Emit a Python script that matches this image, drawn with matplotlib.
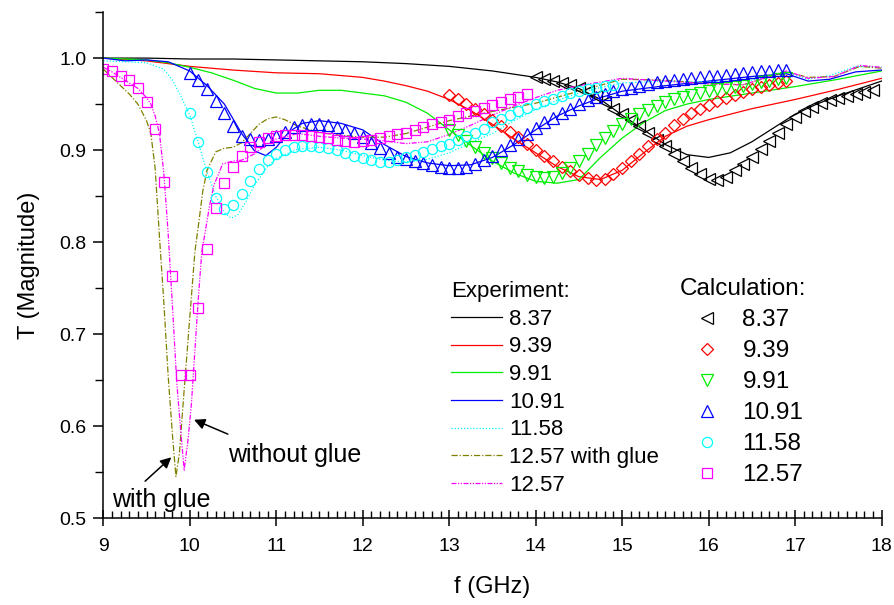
import numpy as np
import matplotlib
matplotlib.use('Agg')
import matplotlib.pyplot as plt
from matplotlib.ticker import MultipleLocator

plt.rcParams['font.family'] = ['Liberation Sans', 'DejaVu Sans']

# ---- experiment (lines) ----
f_837 = [9, 9.5, 10, 10.5, 11, 11.5, 12, 12.5, 13, 13.5, 14, 14.25, 14.5, 14.75, 15, 15.25,
         15.5, 15.75, 16, 16.25, 16.5, 16.75, 17, 17.25, 17.5, 17.75, 18]
t_837 = [1.0, 1.0, 0.999, 0.999, 0.998, 0.997, 0.996, 0.994, 0.991, 0.986, 0.979, 0.974,
         0.967, 0.955, 0.938, 0.922, 0.906, 0.895, 0.892, 0.897, 0.909, 0.924, 0.939, 0.950,
         0.959, 0.967, 0.975]

f_939 = [9, 9.5, 10, 10.5, 11, 11.5, 12, 12.25, 12.5, 12.75, 13, 13.25, 13.5, 13.75, 14,
         14.25, 14.5, 14.75, 15, 15.25, 15.5, 15.75, 16, 16.5, 17, 17.5, 18]
t_939 = [1.0, 0.997, 0.991, 0.987, 0.984, 0.983, 0.979, 0.975, 0.970, 0.964, 0.955, 0.943,
         0.928, 0.912, 0.897, 0.882, 0.871, 0.868, 0.878, 0.897, 0.915, 0.926, 0.933, 0.945,
         0.955, 0.966, 0.978]

f_991 = [9, 9.5, 9.75, 10, 10.25, 10.5, 10.75, 11, 11.25, 11.5, 11.75, 12, 12.25, 12.5, 12.75,
         13, 13.25, 13.5, 13.75, 14, 14.25, 14.5, 14.75, 15, 15.25, 15.5, 15.75, 16, 16.5, 17,
         17.5, 18]
t_991 = [1.0, 0.998, 0.995, 0.990, 0.984, 0.976, 0.967, 0.962, 0.962, 0.965, 0.965, 0.962,
         0.959, 0.952, 0.940, 0.922, 0.905, 0.888, 0.875, 0.866, 0.864, 0.868, 0.892, 0.913,
         0.930, 0.943, 0.950, 0.955, 0.962, 0.969, 0.977, 0.986]

f_1091 = [9, 9.25, 9.5, 9.75, 10, 10.2, 10.4, 10.6, 10.75, 10.88, 11.0, 11.15, 11.3, 11.5,
          11.75, 12, 12.25, 12.5, 12.75, 13, 13.25, 13.5, 13.75, 14, 14.25, 14.5, 14.75, 15,
          15.5, 16, 16.5, 16.9, 17.15, 17.4, 17.7, 18]
t_1091 = [1.0, 0.997, 0.998, 0.996, 0.986, 0.970, 0.950, 0.918, 0.899, 0.894, 0.903, 0.920,
          0.929, 0.932, 0.929, 0.922, 0.906, 0.893, 0.886, 0.883, 0.884, 0.892, 0.906, 0.922,
          0.937, 0.948, 0.957, 0.964, 0.970, 0.975, 0.980, 0.983, 0.975, 0.977, 0.985, 0.987]

f_1158 = [9, 9.25, 9.5, 9.7, 9.8, 9.9, 10.0, 10.1, 10.2, 10.3, 10.4, 10.48, 10.56, 10.65,
          10.75, 10.9, 11.0, 11.25, 11.5, 11.75, 12, 12.25, 12.5, 12.75, 13, 13.25, 13.5,
          13.75, 14, 14.25, 14.5, 14.75, 15, 15.5, 16, 16.5, 16.9, 17.15, 17.4, 17.7, 18]
t_1158 = [0.997, 0.996, 0.995, 0.988, 0.976, 0.958, 0.938, 0.908, 0.876, 0.850, 0.832, 0.826,
          0.830, 0.844, 0.862, 0.882, 0.891, 0.901, 0.903, 0.900, 0.894, 0.889, 0.887, 0.890,
          0.897, 0.908, 0.918, 0.932, 0.944, 0.954, 0.962, 0.968, 0.973, 0.975, 0.974, 0.976,
          0.985, 0.977, 0.981, 0.991, 0.990]

f_1257g = [9.0, 9.1, 9.2, 9.3, 9.4, 9.5, 9.55, 9.6, 9.65, 9.7, 9.75, 9.8, 9.84, 9.88, 9.94,
           10.0, 10.06, 10.1, 10.15, 10.2, 10.3, 10.4, 10.5, 10.6, 10.7, 10.8, 10.9, 11.0,
           11.1, 11.25, 11.5, 11.75, 12.0, 12.25, 12.5, 12.75, 13.0, 13.5, 14.0, 14.5, 15.0,
           15.5, 16.0, 16.4, 16.9, 17.15, 17.45, 17.75, 18.0]
t_1257g = [0.988, 0.979, 0.970, 0.961, 0.950, 0.932, 0.918, 0.880, 0.805, 0.735, 0.655, 0.590,
           0.545, 0.570, 0.645, 0.718, 0.790, 0.818, 0.855, 0.878, 0.898, 0.902, 0.903, 0.908,
           0.918, 0.928, 0.934, 0.936, 0.933, 0.926, 0.919, 0.916, 0.914, 0.914, 0.918, 0.925,
           0.932, 0.942, 0.951, 0.964, 0.977, 0.976, 0.972, 0.971, 0.985, 0.979, 0.980, 0.991,
           0.989]

f_1257 = [9.0, 9.1, 9.2, 9.3, 9.4, 9.5, 9.55, 9.6, 9.65, 9.7, 9.75, 9.8, 9.85, 9.9, 9.935,
          9.98, 10.02, 10.06, 10.1, 10.14, 10.18, 10.23, 10.28, 10.38, 10.5, 10.6, 10.75, 10.9,
          11.0, 11.25, 11.5, 11.75, 12.0, 12.25, 12.5, 12.75, 13.0, 13.25, 13.5, 13.75, 14.0,
          14.25, 14.5, 15.0, 15.5, 16.0, 16.4, 16.9, 17.15, 17.45, 17.75, 18.0]
t_1257 = [0.990, 0.985, 0.979, 0.973, 0.967, 0.957, 0.950, 0.937, 0.918, 0.875, 0.810, 0.730,
          0.647, 0.590, 0.552, 0.585, 0.625, 0.683, 0.740, 0.790, 0.812, 0.840, 0.862, 0.885,
          0.888, 0.889, 0.896, 0.907, 0.912, 0.918, 0.915, 0.913, 0.912, 0.910, 0.907, 0.909,
          0.917, 0.927, 0.938, 0.948, 0.957, 0.965, 0.970, 0.978, 0.975, 0.972, 0.971, 0.986,
          0.978, 0.980, 0.992, 0.990]

# ---- calculation (markers), 0.1 GHz steps ----
fc_837 = np.round(np.arange(14.0, 17.95, 0.1), 1)
tc_837 = [0.979, 0.977, 0.975, 0.973, 0.971, 0.968, 0.964, 0.959, 0.952, 0.945,
          0.939, 0.933, 0.926, 0.919, 0.911, 0.904, 0.896, 0.888, 0.880, 0.874,
          0.869, 0.867, 0.871, 0.878, 0.885, 0.892, 0.901, 0.910, 0.919, 0.928,
          0.936, 0.942, 0.947, 0.951, 0.954, 0.957, 0.959, 0.961, 0.963, 0.965]

fc_939 = np.round(np.arange(13.0, 16.95, 0.1), 1)
tc_939 = [0.960, 0.955, 0.950, 0.945, 0.939, 0.933, 0.926, 0.920, 0.914, 0.907,
          0.900, 0.894, 0.888, 0.882, 0.877, 0.873, 0.870, 0.868, 0.869, 0.874,
          0.880, 0.888, 0.896, 0.904, 0.912, 0.919, 0.927, 0.934, 0.940, 0.945,
          0.949, 0.953, 0.957, 0.960, 0.963, 0.966, 0.969, 0.971, 0.973, 0.975]

fc_991 = np.round(np.arange(13.0, 16.95, 0.1), 1)
tc_991 = [0.922, 0.916, 0.910, 0.903, 0.897, 0.891, 0.886, 0.881, 0.877, 0.873,
          0.871, 0.870, 0.871, 0.875, 0.881, 0.888, 0.896, 0.905, 0.913, 0.921,
          0.928, 0.934, 0.939, 0.944, 0.948, 0.952, 0.955, 0.958, 0.960, 0.962,
          0.964, 0.966, 0.967, 0.969, 0.970, 0.972, 0.974, 0.975, 0.977, 0.978]

fc_1091 = np.round(np.arange(10.0, 16.95, 0.1), 1)
tc_1091 = [0.984, 0.976, 0.966, 0.953, 0.940, 0.926, 0.915, 0.912, 0.911, 0.912,
           0.915, 0.920, 0.925, 0.927, 0.928, 0.928, 0.927, 0.925, 0.922, 0.919,
           0.914, 0.908, 0.902, 0.897, 0.893, 0.890, 0.888, 0.886, 0.884, 0.882,
           0.881, 0.881, 0.882, 0.885, 0.889, 0.894, 0.900, 0.906, 0.912, 0.918,
           0.924, 0.930, 0.935, 0.940, 0.945, 0.950, 0.954, 0.958, 0.961, 0.964,
           0.966, 0.968, 0.970, 0.972, 0.974, 0.975, 0.976, 0.977, 0.978, 0.979,
           0.980, 0.981, 0.982, 0.983, 0.984, 0.985, 0.986, 0.986, 0.987, 0.987]

fc_1158 = np.round(np.arange(10.0, 14.95, 0.1), 1)
tc_1158 = [0.940, 0.909, 0.876, 0.848, 0.836, 0.840, 0.852, 0.866, 0.879, 0.889,
           0.896, 0.900, 0.903, 0.904, 0.904, 0.903, 0.902, 0.900, 0.897, 0.894,
           0.891, 0.889, 0.887, 0.887, 0.889, 0.892, 0.895, 0.898, 0.901, 0.904,
           0.907, 0.911, 0.915, 0.919, 0.923, 0.930, 0.934, 0.938, 0.942, 0.946,
           0.950, 0.953, 0.956, 0.959, 0.962, 0.964, 0.966, 0.968, 0.970, 0.971]

fc_1257 = np.round(np.arange(9.0, 13.95, 0.1), 1)
tc_1257 = [0.988, 0.986, 0.981, 0.976, 0.967, 0.952, 0.923, 0.865, 0.763, 0.655,
           0.655, 0.728, 0.792, 0.837, 0.864, 0.882, 0.894, 0.903, 0.909, 0.913,
           0.915, 0.916, 0.916, 0.916, 0.915, 0.914, 0.913, 0.911, 0.910, 0.909,
           0.910, 0.911, 0.913, 0.915, 0.917, 0.919, 0.922, 0.925, 0.928, 0.931,
           0.933, 0.937, 0.940, 0.943, 0.946, 0.949, 0.952, 0.955, 0.958, 0.961]

fig = plt.figure(figsize=(8.95, 6.05), dpi=100)
ax = fig.add_axes([0.1154, 0.1438, 0.8696, 0.8362])

lw = 0.9
l1, = ax.plot(f_837, t_837, color='black', lw=lw, label='8.37')
l2, = ax.plot(f_939, t_939, color='#ff0000', lw=lw, label='9.39')
l3, = ax.plot(f_991, t_991, color='#00ee00', lw=lw, label='9.91')
l4, = ax.plot(f_1091, t_1091, color='#0000ff', lw=lw, label='10.91')
l5, = ax.plot(f_1158, t_1158, color='#00ffff', lw=lw, ls=(0, (1, 1.5)), label='11.58')
l6, = ax.plot(f_1257g, t_1257g, color='#808000', lw=lw, ls=(0, (5, 1.5, 1, 1.5)),
              label='12.57 with glue')
l7, = ax.plot(f_1257, t_1257, color='#ff00ff', lw=lw, ls=(0, (4, 1.2, 1, 1.2, 1, 1.2)),
              label='12.57')

mk = dict(ls='none', mfc='none', mew=0.9)
m1, = ax.plot(fc_837, tc_837, marker='<', ms=8, mec='black', label='8.37', **mk)
m2, = ax.plot(fc_939, tc_939, marker='D', ms=6.3, mec='#ff0000', label='9.39', **mk)
m3, = ax.plot(fc_991, tc_991, marker='v', ms=8, mec='#00ee00', label='9.91', **mk)
m4, = ax.plot(fc_1091, tc_1091, marker='^', ms=8, mec='#0000ff', label='10.91', **mk)
m5, = ax.plot(fc_1158, tc_1158, marker='o', ms=7.3, mec='#00ffff', label='11.58', **mk)
m6, = ax.plot(fc_1257, tc_1257, marker='s', ms=6.5, mec='#ff00ff', label='12.57', **mk)

ax.set_xlim(9, 18)
ax.set_ylim(0.5, 1.05)
ax.xaxis.set_major_locator(MultipleLocator(1))
ax.xaxis.set_minor_locator(MultipleLocator(0.1))
ax.yaxis.set_major_locator(MultipleLocator(0.1))
ax.yaxis.set_minor_locator(MultipleLocator(0.05))
ax.set_yticks([0.5, 0.6, 0.7, 0.8, 0.9, 1.0])
ax.set_yticklabels(['0.5', '0.6', '0.7', '0.8', '0.9', '1.0'])

for s in ['top', 'right']:
    ax.spines[s].set_visible(False)
for s in ['left', 'bottom']:
    ax.spines[s].set_linewidth(1.1)

ax.tick_params(axis='x', which='major', direction='inout', length=11, width=1.1,
               labelsize=14, pad=9)
ax.tick_params(axis='x', which='minor', direction='in', length=5, width=1.0)
ax.tick_params(axis='y', which='major', direction='out', length=7, width=1.1,
               labelsize=14, pad=5)
ax.tick_params(axis='y', which='minor', direction='out', length=6, width=1.0)

ax.set_xlabel('f (GHz)', fontsize=17, labelpad=15)
ax.set_ylabel('T (Magnitude)', fontsize=17, labelpad=14)

# annotations
ax.annotate('', xy=(9.81, 0.568), xytext=(9.46, 0.538),
            arrowprops=dict(arrowstyle='-|>', color='black', lw=1.1, mutation_scale=16))
ax.text(9.67, 0.52, 'with glue', fontsize=18, ha='center', va='center')
ax.annotate('', xy=(10.02, 0.608), xytext=(10.47, 0.590),
            arrowprops=dict(arrowstyle='-|>', color='black', lw=1.1, mutation_scale=16))
ax.text(11.21, 0.568, 'without glue', fontsize=18, ha='center', va='center')

# legends
leg1 = fig.legend(handles=[l1, l2, l3, l4, l5, l6, l7], title='Experiment:',
                  loc='upper left', bbox_to_anchor=(451 / 895, 1 - 281 / 605),
                  frameon=False, fontsize=16, title_fontsize=16, alignment='left',
                  handlelength=2.3, handletextpad=0.32, labelspacing=0.3,
                  borderpad=0, borderaxespad=0)
leg2 = fig.legend(handles=[m1, m2, m3, m4, m5, m6], title='Calculation:',
                  loc='upper left', bbox_to_anchor=(680 / 895, 1 - 278 / 605),
                  frameon=False, fontsize=17.5, title_fontsize=17.5, alignment='left',
                  handlelength=2.2, handletextpad=0.37, labelspacing=0.37,
                  borderpad=0, borderaxespad=0)

fig.savefig('out.png', dpi=100)
